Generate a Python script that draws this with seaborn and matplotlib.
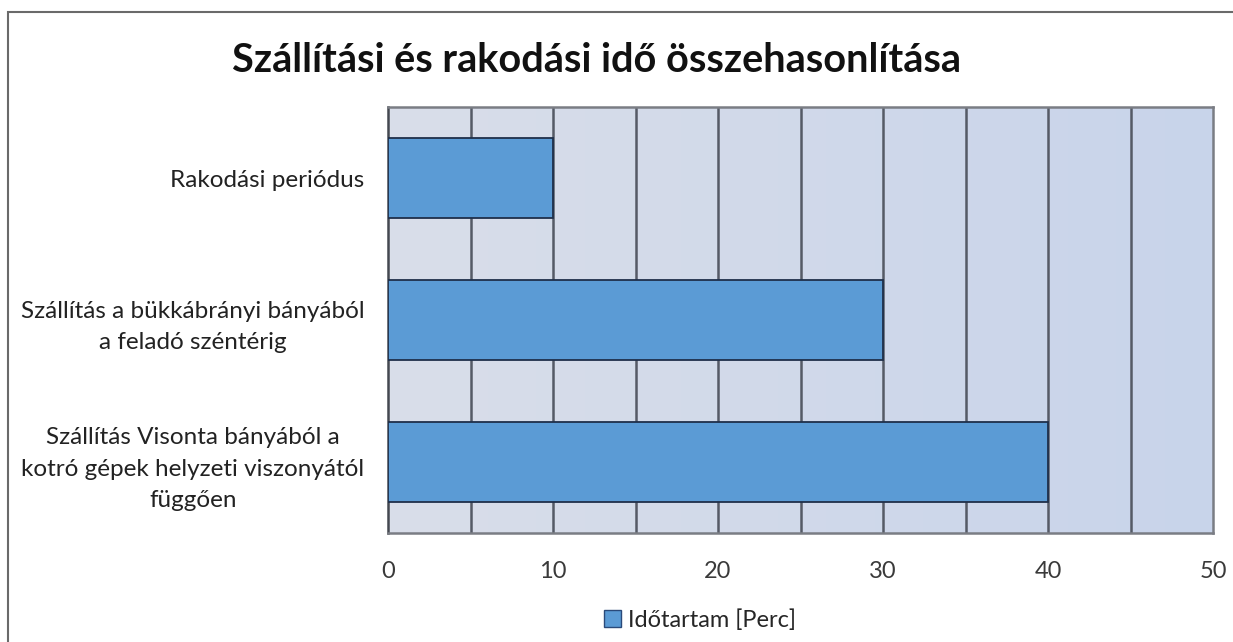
import matplotlib
matplotlib.use("Agg")
import matplotlib.pyplot as plt
import seaborn as sns
import numpy as np
import pandas as pd
from matplotlib.patches import Rectangle, Patch
from matplotlib.colors import LinearSegmentedColormap

categories = [
    "Rakodási periódus",
    "Szállítás a bükkábrányi bányából\na feladó széntérig",
    "Szállítás Visonta bányából a\nkotró gépek helyzeti viszonyától\nfüggően",
]
values = [10, 30, 40]
series_name = "Időtartam [Perc]"
title = "Szállítási és rakodási idő összehasonlítása"
x_ticks = [0, 10, 20, 30, 40, 50]

sns.set_style("white")
plt.rcParams["font.family"] = ["Lato", "DejaVu Sans"]

df = pd.DataFrame({"cat": categories, "val": values})

fig = plt.figure(figsize=(12.33, 6.42), dpi=100)
ax = fig.add_axes([388 / 1233, 1 - 533 / 642, (1213 - 388) / 1233, (533 - 107) / 642])

# gradient background
grad = np.linspace(0, 1, 256).reshape(1, -1)
cmap = LinearSegmentedColormap.from_list("bg", ["#d9dee9", "#c8d4eb"])
ax.imshow(grad, cmap=cmap, aspect="auto", extent=[0, 1, 0, 1],
          transform=ax.transAxes, zorder=0)

sns.barplot(data=df, y="cat", x="val", orient="h", color="#5b9bd5",
            edgecolor="#1f2f4a", linewidth=1.3, width=0.56, ax=ax, zorder=3,
            saturation=1)

ax.set_xlim(0, 50)
ax.set_xticks(x_ticks)
for x in np.arange(5, 50, 5):
    ax.axvline(x, color="#555a66", lw=1.8, zorder=1)
ax.set_xlabel("")
ax.set_ylabel("")
ax.tick_params(axis="x", which="both", length=0, labelsize=17, colors="#3a3a3a", pad=20)
ax.tick_params(axis="y", length=0, labelsize=17.5, pad=17)
for lbl in ax.get_yticklabels():
    lbl.set_multialignment("center")
    lbl.set_color("#222222")
    lbl.set_linespacing(1.6)
for s in ax.spines.values():
    s.set_color("#7a7d84")
    s.set_linewidth(1.8)
ax.spines["left"].set_color("#444850")

fig.text(0.484, 1 - 61 / 642, title, ha="center", va="center",
         fontsize=28.5, fontweight="bold", color="#111111")

handles = [Patch(facecolor="#5b9bd5", edgecolor="#2a4a7a", label=series_name)]
fig.legend(handles=handles, loc="center", bbox_to_anchor=(700 / 1233, 1 - 620 / 642),
           frameon=False, fontsize=17, handlelength=0.7, handleheight=0.7,
           handletextpad=0.3)

fig.patches.append(Rectangle((8 / 1233, -0.1), 1.2, 1 - 12 / 642 + 0.1,
                             transform=fig.transFigure, fill=False,
                             edgecolor="#6a6a6a", lw=1.5))

fig.savefig("out.png", dpi=100)
